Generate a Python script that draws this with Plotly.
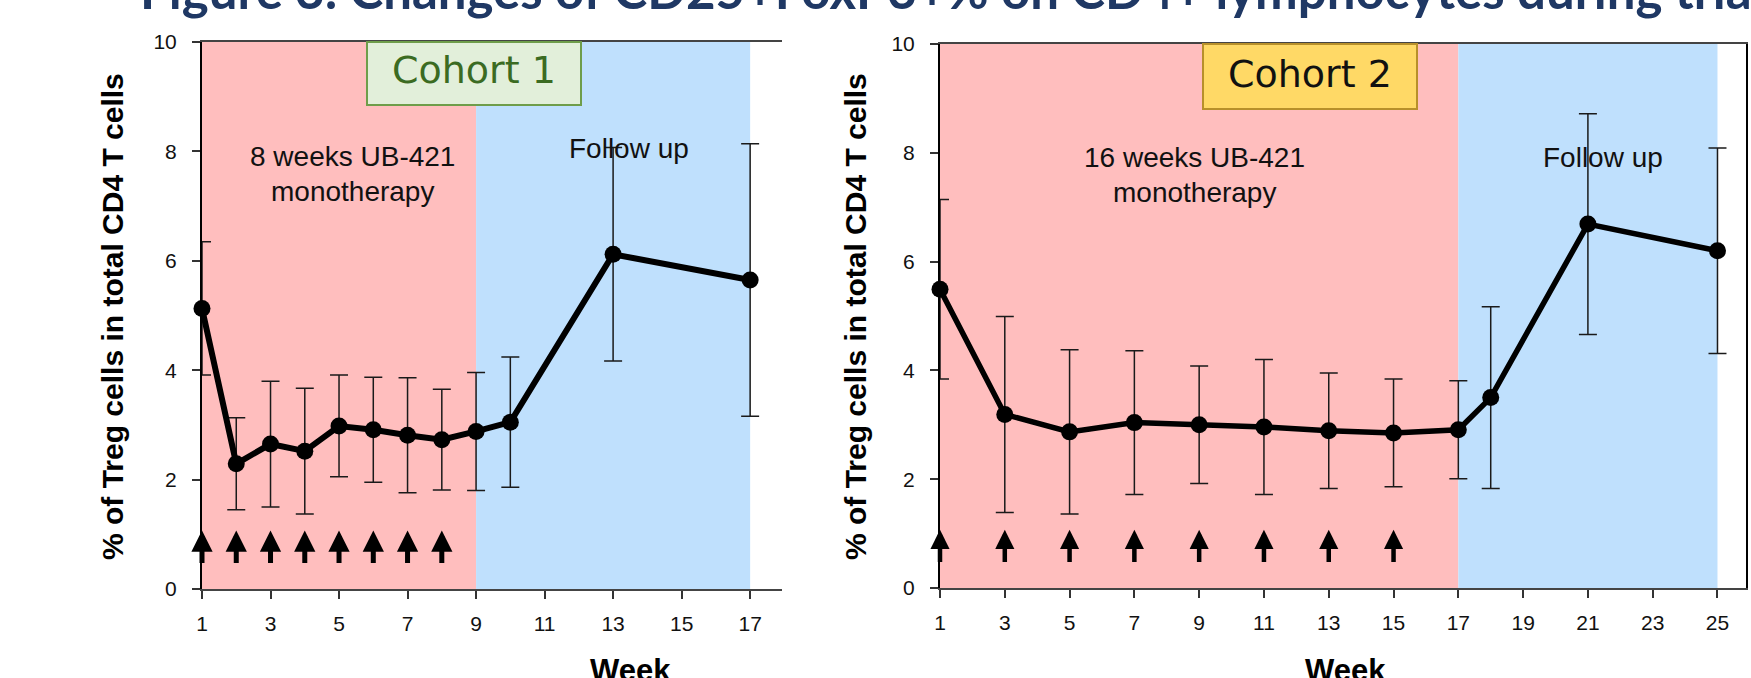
import plotly.graph_objects as go

W, H = 1751, 678

# ---------------- data ----------------
weeks1 = [1, 2, 3, 4, 5, 6, 7, 8, 9, 10, 13, 17]
treg1 = [5.13, 2.29, 2.65, 2.52, 2.98, 2.91, 2.81, 2.73, 2.88, 3.05, 6.12, 5.65]
sd1 = [1.22, 0.84, 1.15, 1.15, 0.93, 0.96, 1.05, 0.92, 1.08, 1.19, 1.95, 2.49]
dose_weeks1 = [1, 2, 3, 4, 5, 6, 7, 8]
treat1 = [1, 9]
follow1 = [9, 17]
xticks1 = [1, 3, 5, 7, 9, 11, 13, 15, 17]

weeks2 = [1, 3, 5, 7, 9, 11, 13, 15, 17, 18, 21, 25]
treg2 = [5.49, 3.19, 2.87, 3.04, 3.00, 2.96, 2.89, 2.85, 2.91, 3.50, 6.69, 6.20]
sd2 = [1.65, 1.80, 1.51, 1.32, 1.08, 1.24, 1.06, 0.99, 0.90, 1.67, 2.03, 1.89]
dose_weeks2 = [1, 3, 5, 7, 9, 11, 13, 15]
treat2 = [1, 17]
follow2 = [17, 25]
xticks2 = [1, 3, 5, 7, 9, 11, 13, 15, 17, 19, 21, 23, 25]

yticks = [0, 2, 4, 6, 8, 10]

title_text = "Figure 3. Changes of CD25+FoxP3+% on CD4+ lymphocytes during trial"
ylabel = "% of Treg cells in total CD4 T cells"
xlabel = "Week"
cohort_labels = ["Cohort 1", "Cohort 2"]
treat_labels = [["8 weeks UB-421", "monotherapy"], ["16 weeks UB-421", "monotherapy"]]
follow_label = "Follow up"

# ---------------- helpers ----------------
def px(x):
    return x / W

def py(y):
    return 1 - y / H

PINK = "#FFBEBE"
BLUE = "#BFE0FD"
ARIAL = "Liberation Sans, Arial, sans-serif"

fig = go.Figure()

for i, (wk, val, sd, lw) in enumerate([(weeks1, treg1, sd1, 6), (weeks2, treg2, sd2, 5.5)]):
    ax = "x" if i == 0 else "x2"
    ay = "y" if i == 0 else "y2"
    fig.add_trace(go.Scatter(
        x=wk, y=val, mode="lines+markers",
        line=dict(color="black", width=lw),
        marker=dict(color="black", size=17),
        error_y=dict(type="data", array=sd, visible=True, color="#1a1a1a",
                     thickness=1.5, width=9),
        xaxis=ax, yaxis=ay, cliponaxis=False, showlegend=False,
    ))

shapes = []
for i, (tr, fo) in enumerate([(treat1, follow1), (treat2, follow2)]):
    xr = "x" if i == 0 else "x2"
    yr = "y" if i == 0 else "y2"
    shapes.append(dict(type="rect", xref=xr, yref=yr, x0=tr[0], x1=tr[1], y0=0, y1=10,
                       fillcolor=PINK, line=dict(width=0), layer="below"))
    shapes.append(dict(type="rect", xref=xr, yref=yr, x0=fo[0], x1=fo[1], y0=0, y1=10,
                       fillcolor=BLUE, line=dict(width=0), layer="below"))

# cohort boxes
shapes.append(dict(type="rect", xref="paper", yref="paper",
                   x0=px(367), x1=px(581), y0=py(105), y1=py(42),
                   fillcolor="#E2EFDA", line=dict(color="#6E9D4A", width=2), layer="above"))
shapes.append(dict(type="rect", xref="paper", yref="paper",
                   x0=px(1203), x1=px(1417), y0=py(109), y1=py(44),
                   fillcolor="#FFD966", line=dict(color="#B8902A", width=2), layer="above"))

annotations = []
# title (partly cut off at the top, as in the source)
annotations.append(dict(text=title_text, xref="paper", yref="paper", x=px(138), y=0.967,
                        xanchor="left", yanchor="bottom", showarrow=False,
                        font=dict(family="Lato, sans-serif", size=51, color="#1F3864", weight="bold")))
# cohort labels
annotations.append(dict(text=cohort_labels[0], xref="paper", yref="paper", x=px(474), y=py(70),
                        xanchor="center", yanchor="middle", showarrow=False,
                        font=dict(family="DejaVu Sans, sans-serif", size=38, color="#3B6B22")))
annotations.append(dict(text=cohort_labels[1], xref="paper", yref="paper", x=px(1310), y=py(74),
                        xanchor="center", yanchor="middle", showarrow=False,
                        font=dict(family="DejaVu Sans, sans-serif", size=38, color="#111111")))
# phase labels
for (cx, y1, y2), lines in zip([(352, 156, 191), (1194, 157, 192)], treat_labels):
    annotations.append(dict(text=lines[0], xref="paper", yref="paper", x=px(cx), y=py(y1),
                            xanchor="center", yanchor="middle", showarrow=False,
                            font=dict(family=ARIAL, size=28, color="#111111")))
    annotations.append(dict(text=lines[1], xref="paper", yref="paper", x=px(cx), y=py(y2),
                            xanchor="center", yanchor="middle", showarrow=False,
                            font=dict(family=ARIAL, size=28, color="#111111")))
for cx, cy in [(629, 149), (1603, 157)]:
    annotations.append(dict(text=follow_label, xref="paper", yref="paper", x=px(cx), y=py(cy),
                            xanchor="center", yanchor="middle", showarrow=False,
                            font=dict(family=ARIAL, size=28, color="#111111")))
# axis titles
for cx in [112, 855]:
    annotations.append(dict(text=ylabel, xref="paper", yref="paper", x=px(cx), y=py(317),
                            xanchor="center", yanchor="middle", textangle=-90, showarrow=False,
                            font=dict(family=ARIAL, size=30, color="black", weight="bold")))
for cx in [630, 1345]:
    annotations.append(dict(text=xlabel, xref="paper", yref="paper", x=px(cx), y=py(651),
                            xanchor="center", yanchor="top", showarrow=False,
                            font=dict(family=ARIAL, size=31, color="black", weight="bold")))
# dose arrows
for i, doses in enumerate([dose_weeks1, dose_weeks2]):
    xr = "x" if i == 0 else "x2"
    yr = "y" if i == 0 else "y2"
    for d in doses:
        annotations.append(dict(text="", x=d, y=1.07, ax=d, ay=0.45,
                                xref=xr, yref=yr, axref=xr, ayref=yr,
                                showarrow=True, arrowhead=2, arrowsize=0.85,
                                arrowwidth=5 if i == 0 else 4.5, arrowcolor="black"))

tickfont = dict(family=ARIAL, size=21, color="#111111")
xcommon = dict(showgrid=False, zeroline=False, ticks="outside", ticklen=8, tickwidth=1.5,
               tickcolor="#333333", showline=True, linecolor="#444444", linewidth=2,
               mirror=True, tickfont=tickfont, ticklabelstandoff=7, automargin=False)
ycommon = dict(showgrid=False, zeroline=False, ticks="outside", ticklen=8, tickwidth=1.5,
               tickcolor="#333333", showline=True, linecolor="black", linewidth=2,
               tickfont=tickfont, range=[0, 10], tickvals=yticks, ticklabelstandoff=11,
               automargin=False)

fig.update_layout(
    width=W, height=H, autosize=False,
    margin=dict(l=0, r=0, t=0, b=0, pad=0, autoexpand=False),
    paper_bgcolor="white", plot_bgcolor="white",
    shapes=shapes, annotations=annotations,
    xaxis=dict(domain=[px(202), px(782)], range=[1, 17.93], tickvals=xticks1,
               anchor="y", **xcommon),
    yaxis=dict(domain=[py(589), py(42)], anchor="x", mirror=False, **ycommon),
    xaxis2=dict(domain=[px(940), px(1746)], range=[1, 25.88], tickvals=xticks2,
                anchor="y2", **xcommon),
    yaxis2=dict(domain=[py(588), py(44)], anchor="x2", mirror=True, **ycommon),
)

fig.write_html("out.html")
